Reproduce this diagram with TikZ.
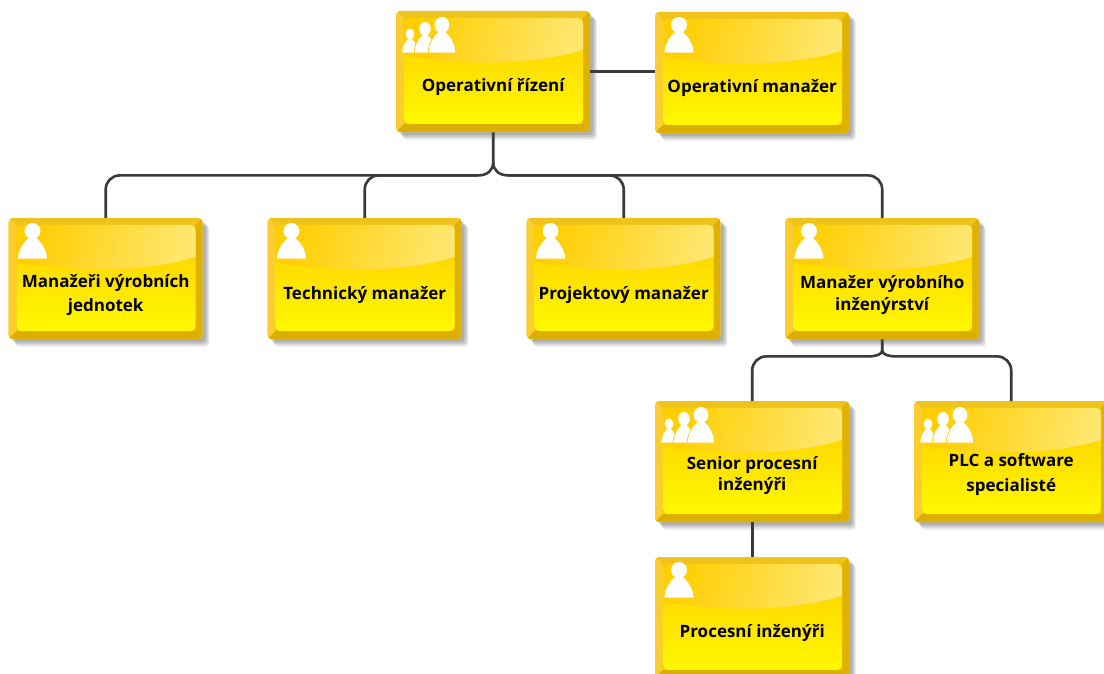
\documentclass[tikz,border=0pt]{standalone}
\usepackage{fontspec}
\setmainfont{Open Sans}
\usetikzlibrary{shadows,calc}
\definecolor{edgeL}{HTML}{FACE2E}
\definecolor{edgeR}{HTML}{DFB200}
\definecolor{edgeT}{HTML}{F0C21C}
\definecolor{edgeB}{HTML}{DBAE00}
\definecolor{faceT}{HTML}{FFCC00}
\definecolor{faceB}{HTML}{FFF800}
\definecolor{glossL}{HTML}{FFCE00}
\definecolor{glossM}{HTML}{FFD41C}
\definecolor{glossR}{HTML}{FFE66E}
\definecolor{linecol}{HTML}{3A3A3A}
\newcommand\person[4]{%
  \begin{scope}[shift={(#1,#2)},xscale=#3,yscale=#4]
    \filldraw[fill=white,draw=faceT,line width=.7pt] (-15,0) .. controls (-15,-10) and (-8,-19) .. (-3,-22) -- (3,-22) .. controls (8,-19) and (15,-10) .. (15,0) -- cycle;
    \fill[white] (0,-28) circle [radius=8];
  \end{scope}}
\newcommand\iconone{\person{24}{41}{1}{1}}
\newcommand\iconthree{\person{14}{42}{.55}{.68}\person{29}{42}{.72}{.86}\person{46}{42}{.92}{1}}
\tikzset{
  card/.style={rectangle,rounded corners=4pt,fill=edgeT,inner sep=0pt,minimum width=194pt,minimum height=121pt,anchor=north west,
    general shadow={shadow xshift=7pt,shadow yshift=-8pt,fill=black,fill opacity=.05},
    general shadow={shadow xshift=6pt,shadow yshift=-6.5pt,fill=black,fill opacity=.08},
    general shadow={shadow xshift=5pt,shadow yshift=-5pt,fill=black,fill opacity=.1},
    general shadow={shadow xshift=3pt,shadow yshift=-3pt,fill=black,fill opacity=.12}},
  cardtext/.style={align=center,font=\fontsize{17}{20}\selectfont\bfseries,text=black,inner sep=0pt},
  conn/.style={draw=linecol,line width=2.6pt}
}
\newcommand\card[6]{%
  \node (#1) [card] at (#2,#3) {};
  \begin{scope}[shift={(#1.north west)}]
    \clip[rounded corners=4pt] (0,0) rectangle (194,121);
    \fill[edgeT] (0,0) -- (194,0) -- (187,7) -- (8,7) -- cycle;
    \fill[edgeL] (0,0) -- (8,7) -- (8,113) -- (0,121) -- cycle;
    \fill[edgeR] (194,0) -- (187,7) -- (187,113) -- (194,121) -- cycle;
    \fill[edgeB] (0,121) -- (8,113) -- (187,113) -- (194,121) -- cycle;
    \shade[rounded corners=5pt,top color=faceT,bottom color=faceB] (8,7) rectangle (187,113);
    \shade[left color=glossL,middle color=glossM,right color=glossR,shading angle=75]
      (8,44) .. controls (60,54) and (130,56) .. (187,39) -- (187,12) .. controls (187,9) and (185,7) .. (182,7) -- (13,7) .. controls (10,7) and (8,9) .. (8,12) -- cycle;
    #4
  \end{scope}
  \node (#1t) [cardtext] at ($(#1.center)+(0,#5)$) {#6};}
\begin{document}
\begin{tikzpicture}[x=1pt,y=-1pt]
\useasboundingbox (0,0) rectangle (1104,674);
\fill[white] (0,0) rectangle (1104,674);
\card{ridi}{396}{11}{\iconthree}{15}{Operativní řízení}
\card{opman}{655}{12}{\iconone}{15}{Operativní manažer}
\card{jed}{8.5}{218}{\iconone}{16}{Manažeři výrobních\\[4pt]jednotek}
\card{tech}{267.5}{218}{\iconone}{16.5}{Technický manažer}
\card{proj}{526.5}{218}{\iconone}{16.5}{Projektový manažer}
\card{inz}{785}{218}{\iconone}{16.5}{Manažer výrobního\\[2pt]inženýrství}
\card{sen}{655}{401}{\iconthree}{14}{Senior procesní\\[1pt]inženýři}
\card{plc}{914}{401}{\iconthree}{13}{PLC a software\\[5pt]specialisté}
\card{pro}{655}{557}{\iconone}{15.5}{Procesní inženýři}
% connectors
\draw[conn] (ridi.east) -- (ridi.east -| opman.west);
\draw[conn] (sen.south) -- (pro.north);
\coordinate (rj) at ($(ridi.south)+(0,30)$);
\coordinate (rl) at ($(rj)+(-15,13)$);
\coordinate (rr) at ($(rj)+(15,13)$);
\draw[conn] (ridi.south) -- (rj) .. controls ($(rj)+(0,8)$) and ($(rj)+(-6,13)$) .. (rl) [rounded corners=14pt] -- (rl -| jed.north) -- (jed.north);
\draw[conn] (rl) [rounded corners=14pt] -- (rl -| tech.north) -- (tech.north);
\draw[conn] (rj) .. controls ($(rj)+(0,8)$) and ($(rj)+(6,13)$) .. (rr) [rounded corners=14pt] -- (rr -| proj.north) -- (proj.north);
\draw[conn] (rr) [rounded corners=14pt] -- (rr -| inz.north) -- (inz.north);
\coordinate (ij) at ($(inz.south)+(0,11)$);
\coordinate (il) at ($(ij)+(-14,6)$);
\coordinate (ir) at ($(ij)+(14,6)$);
\draw[conn] (inz.south) -- (ij) .. controls ($(ij)+(0,4)$) and ($(ij)+(-6,6)$) .. (il) [rounded corners=14pt] -- (il -| sen.north) -- (sen.north);
\draw[conn] (ij) .. controls ($(ij)+(0,4)$) and ($(ij)+(6,6)$) .. (ir) [rounded corners=14pt] -- (ir -| plc.north) -- (plc.north);
\end{tikzpicture}
\end{document}
